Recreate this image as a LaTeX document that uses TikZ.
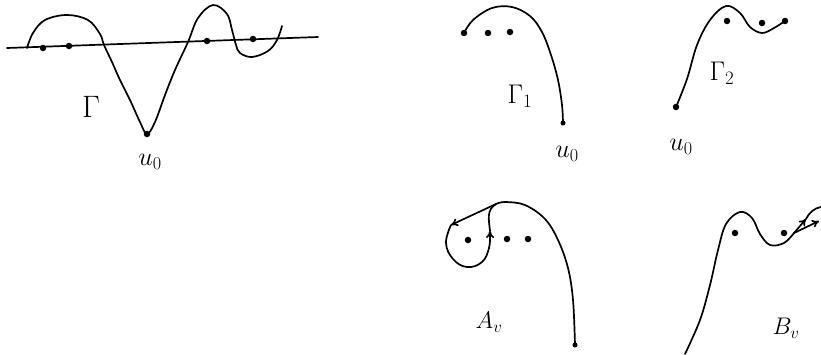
\RequirePackage{fix-cm}
\documentclass[tikz,border=0pt]{standalone}
\usetikzlibrary{arrows.meta}
\begin{document}
\begin{tikzpicture}[x=1pt,y=-1pt,
  curve/.style={line width=1.7pt,line cap=round,line join=round},
  pt/.style={circle,fill=black,inner sep=0pt,minimum size=6.5pt},
  lbl/.style={inner sep=0pt,font=\fontsize{27}{29}\selectfont},
  ulbl/.style={inner sep=0pt,font=\fontsize{26}{28}\selectfont},
  sublbl/.style={inner sep=0pt,font=\fontsize{24}{26}\selectfont},
  tip/.style={-{To[length=7pt,width=8pt]}}]
\useasboundingbox (0,0) rectangle (821,354);

% ---------- Panel 1 ----------
\coordinate (L1) at (7,48);
\coordinate (L2) at (318,37);
\draw[curve] (L1) -- (L2);
\draw[curve] plot[smooth,tension=0.6] coordinates {
  (27,48) (33,33) (45,20) (67,15) (88,20) (100,34) (104,45)
  (112,62) (120,80) (130,100) (140,122) (147,134)
  (155,122) (165,95) (175,70) (188,42) (198,18) (213,5)
  (227,14) (232,30) (236,45) (240,53) (252,57) (268,51) (277,40) (282,26)};
\node[pt] (p1a) at (43,48) {};
\node[pt] (p1b) at (69,46) {};
\node[pt] (p1c) at (207,41) {};
\node[pt] (p1d) at (253,39) {};
\node[pt] (p1u) at (147,134) {};
\node[lbl,font=\fontsize{31}{33}\selectfont] (g) at (91,107) {$\Gamma$};
\node[ulbl] (u1) at (150,162) {$u_0$};

% ---------- Panel 2 ----------
\draw[curve] plot[smooth,tension=0.6] coordinates {
  (464,33) (473,20) (492,8) (512,7) (530,16) (542,32) (551,55) (558,80) (562,105) (563,123)};
\node[pt] (q1) at (464,33) {};
\node[pt] (q2) at (488,33) {};
\node[pt] (q3) at (510,32) {};
\node[pt,minimum size=5pt] (q4) at (563,123) {};
\node[lbl] (g1) at (520,96) {$\Gamma_1$};
\node[ulbl] (u2) at (567,154) {$u_0$};

% ---------- Panel 3 ----------
\draw[curve] plot[smooth,tension=0.6] coordinates {
  (676,107) (687,79) (697,45) (710,20) (726,6) (740,13) (750,27) (762,33) (774,28) (785,21)};
\node[pt] (r0) at (676,107) {};
\node[pt] (r1) at (727,21) {};
\node[pt] (r2) at (762,23) {};
\node[pt] (r3) at (785,21) {};
\node[lbl] (g2) at (722,73) {$\Gamma_2$};
\node[ulbl] (u3) at (681,147) {$u_0$};

% ---------- Panel 4 : A_v ----------
\coordinate (J4) at (496,204);
\coordinate (a1) at (451,225);
\coordinate (a2) at (490,231);
\draw[curve] plot[smooth,tension=0.6] coordinates {
  (575,345) (573,300) (568,268) (558,240) (545,219) (525,205) (505,202) (J4)};
\draw[curve,tip] (J4) -- (a1);
\draw[curve] plot[smooth,tension=0.7] coordinates {
  (a1) (446,243) (453,259) (467,267) (482,262) (489,248) (490,234)};
\draw[curve,tip] (490,240) -- (a2);
\draw[curve] (a2) .. controls (489,220) and (486,210) .. (J4);
\node[pt] (s1) at (468,240) {};
\node[pt] (s2) at (507,239) {};
\node[pt] (s3) at (528,239) {};
\node[pt,minimum size=5pt] (s4) at (575,345) {};
\node[sublbl] (av) at (489,322) {$A_v$};

% ---------- Panel 5 : B_v ----------
\coordinate (J5) at (794,233);
\draw[curve] plot[smooth,tension=0.6] coordinates {
  (685,354) (700,320) (710,285) (718,250) (726,224) (740,212) (752,218) (760,234) (770,245) (784,243) (J5)};
\draw[curve,tip] (J5) -- (806,219);
\draw[curve] (806,219) .. controls (809,213) and (814,208) .. (821,207);
\draw[curve,tip] (J5) -- (819,221);
\node[pt] (t1) at (735,233) {};
\node[pt] (t2) at (784,233) {};
\node[sublbl] (bv) at (786,328) {$B_v$};
\end{tikzpicture}
\end{document}
